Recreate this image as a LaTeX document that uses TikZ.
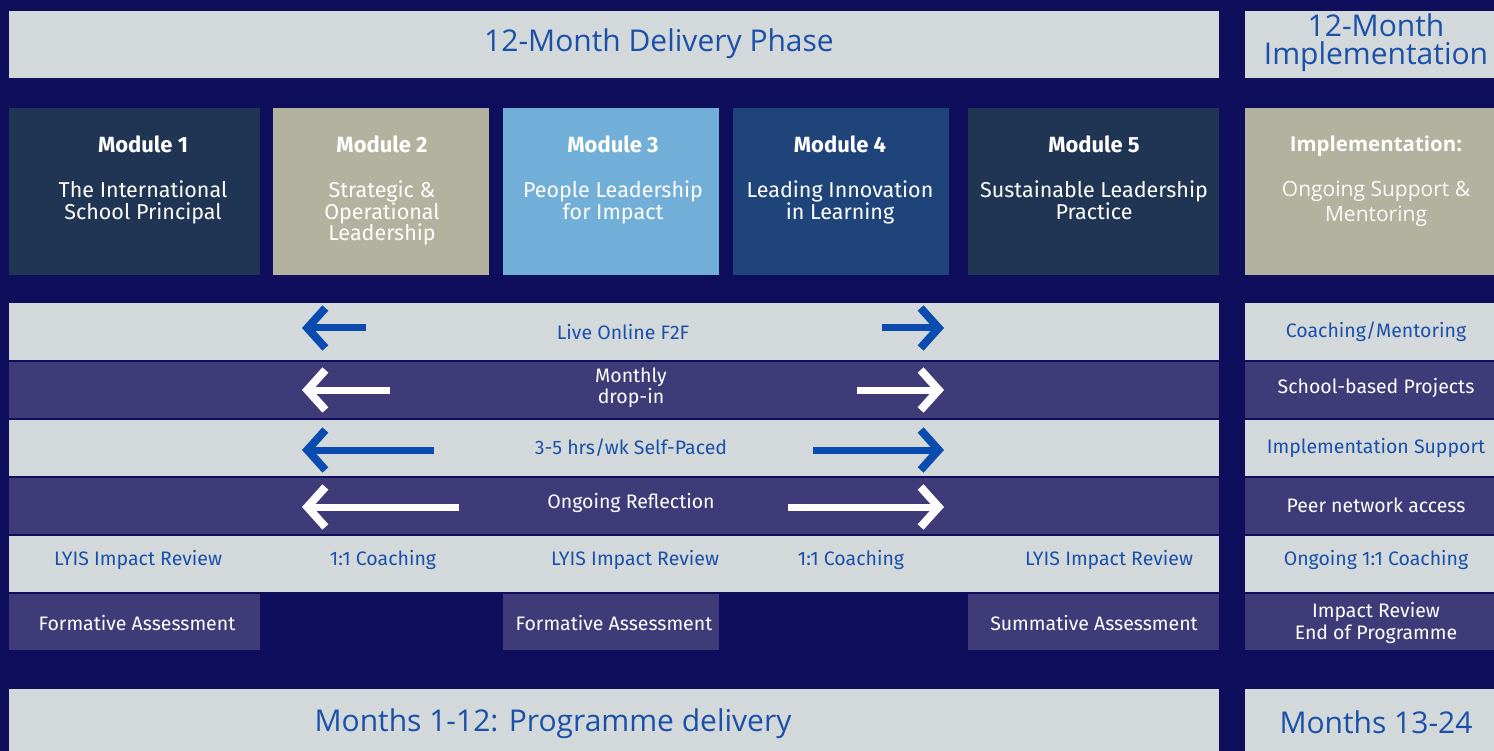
\documentclass[tikz,border=0pt]{standalone}
\usepackage{fontspec}
\setmainfont{Fira Sans}
\newfontfamily\headfont{Open Sans}
\usetikzlibrary{arrows.meta}
\definecolor{navy}{HTML}{0E0E5C}
\definecolor{lightband}{HTML}{D3D9DB}
\definecolor{purpleband}{HTML}{3E3B78}
\definecolor{slatebox}{HTML}{1F3553}
\definecolor{khakibox}{HTML}{B3B29E}
\definecolor{skybox}{HTML}{72AFD8}
\definecolor{deepbox}{HTML}{1F4479}
\definecolor{txtblue}{HTML}{1A50A8}
\definecolor{arrowblue}{HTML}{0A4BB0}

\begin{document}
\begin{tikzpicture}[x=1pt,y=-1pt,
  panel/.style={anchor=north west, inner sep=0pt, outer sep=0pt},
  modtitle/.style={font=\fontsize{22}{24}\selectfont\bfseries, text=white, anchor=base},
  modsub/.style={font=\fontsize{21.5}{21.5}\selectfont, text=white, align=center, anchor=north, inner sep=0pt},
  rowblue/.style={font=\fontsize{19.5}{22}\selectfont, text=txtblue},
  rowwhite/.style={font=\fontsize{19.5}{22}\selectfont, text=white, align=center},
  bigtitle/.style={font=\headfont\fontsize{30}{27}\selectfont, text=txtblue, align=center},
  flow/.style={line width=7pt, -{Straight Barb[length=18pt,width=40pt,line width=8pt]}},
]
\useasboundingbox (0,0) rectangle (1494,751);
\fill[navy] (0,0) rectangle (1494,751);

% headers
\node[panel, fill=lightband, minimum width=1210, minimum height=67] (delivery) at (9,11) {};
\node[panel, fill=lightband, minimum width=249, minimum height=67] (implement) at (1245,11) {};
\node[bigtitle] (deliverytxt) at (659,44) {12-Month Delivery Phase};
\node[bigtitle, font=\headfont\fontsize{30}{28}\selectfont, inner sep=0pt] (implementtxt) at (1376,43) {12-Month\\Implementation};

% modules
\node[panel, fill=slatebox, minimum width=251, minimum height=167] (mod1) at (9,108) {};
\node[panel, fill=khakibox, minimum width=216, minimum height=167] (mod2) at (273,108) {};
\node[panel, fill=skybox, minimum width=216, minimum height=167] (mod3) at (503,108) {};
\node[panel, fill=deepbox, minimum width=216, minimum height=167] (mod4) at (733,108) {};
\node[panel, fill=slatebox, minimum width=251, minimum height=167] (mod5) at (968,108) {};
\node[panel, fill=khakibox, minimum width=249, minimum height=167] (impl) at (1245,108) {};

\node[modtitle] (mod1t) at (143,153) {Module 1};
\node[modsub] (mod1s) at (143,181) {The International\\School Principal};
\node[modtitle] (mod2t) at (382,153) {Module 2};
\node[modsub] (mod2s) at (382,181) {Strategic \&\\Operational\\Leadership};
\node[modtitle] (mod3t) at (613,153) {Module 3};
\node[modsub] (mod3s) at (613,181) {People Leadership\\for Impact};
\node[modtitle] (mod4t) at (840,153) {Module 4};
\node[modsub] (mod4s) at (840,181) {Leading Innovation\\in Learning};
\node[modtitle] (mod5t) at (1094,153) {Module 5};
\node[modsub] (mod5s) at (1094,181) {Sustainable Leadership\\Practice};
\node[modtitle, font=\headfont\fontsize{20.5}{22}\selectfont\bfseries] (implt) at (1376,152) {Implementation:};
\node[modsub, font=\headfont\fontsize{21}{24.5}\selectfont, text=white!95!khakibox] (impls) at (1376,181) {Ongoing Support \&\\Mentoring};

% delivery rows
\node[panel, fill=lightband, minimum width=1210, minimum height=57] (live) at (9,303) {};
\node[panel, fill=purpleband, minimum width=1210, minimum height=56] (dropin) at (9,362) {};
\node[panel, fill=lightband, minimum width=1210, minimum height=56] (selfpaced) at (9,420) {};
\node[panel, fill=purpleband, minimum width=1210, minimum height=56] (reflect) at (9,478) {};
\node[panel, fill=lightband, minimum width=1210, minimum height=56] (review) at (9,536) {};
\node[panel, fill=purpleband, minimum width=251, minimum height=56] (assess1) at (9,594) {};
\node[panel, fill=purpleband, minimum width=216, minimum height=56] (assess2) at (503,594) {};
\node[panel, fill=purpleband, minimum width=251, minimum height=56] (assess3) at (968,594) {};

\node[rowblue] (livetxt) at (623,332) {Live Online F2F};
\node[rowwhite, font=\fontsize{19.5}{21}\selectfont] (dropintxt) at (631,388) {Monthly\\drop-in};
\node[rowblue] (selftxt) at (631,448) {3-5 hrs/wk Self-Paced};
\node[rowwhite] (reflecttxt) at (631,503) {Ongoing Reflection};

\node[rowblue] (rev1) at (138,560) {LYIS Impact Review};
\node[rowblue] (coach1) at (383,560) {1:1 Coaching};
\node[rowblue] (rev2) at (635,560) {LYIS Impact Review};
\node[rowblue] (coach2) at (851,560) {1:1 Coaching};
\node[rowblue] (rev3) at (1109,560) {LYIS Impact Review};
\node[rowwhite] (form1) at (137,623) {Formative Assessment};
\node[rowwhite] (form2) at (614,623) {Formative Assessment};
\node[rowwhite] (summ) at (1094,623) {Summative Assessment};

% arrows
\coordinate (a1l) at (366,328); \coordinate (a1lt) at (302,328);
\coordinate (a1r) at (882,328); \coordinate (a1rt) at (944,328);
\coordinate (a2l) at (390,390); \coordinate (a2lt) at (302,390);
\coordinate (a2r) at (857,390); \coordinate (a2rt) at (944,390);
\coordinate (a3l) at (434,450); \coordinate (a3lt) at (302,450);
\coordinate (a3r) at (813,450); \coordinate (a3rt) at (944,450);
\coordinate (a4l) at (459,507); \coordinate (a4lt) at (302,507);
\coordinate (a4r) at (788,507); \coordinate (a4rt) at (944,507);
\draw[flow, arrowblue] (a1l) -- (a1lt);
\draw[flow, arrowblue] (a1r) -- (a1rt);
\draw[flow, white] (a2l) -- (a2lt);
\draw[flow, white] (a2r) -- (a2rt);
\draw[flow, arrowblue] (a3l) -- (a3lt);
\draw[flow, arrowblue] (a3r) -- (a3rt);
\draw[flow, white] (a4l) -- (a4lt);
\draw[flow, white] (a4r) -- (a4rt);

% implementation column
\node[panel, fill=lightband, minimum width=249, minimum height=57] (mentor) at (1245,303) {};
\node[panel, fill=purpleband, minimum width=249, minimum height=56] (projects) at (1245,362) {};
\node[panel, fill=lightband, minimum width=249, minimum height=56] (support) at (1245,420) {};
\node[panel, fill=purpleband, minimum width=249, minimum height=56] (peers) at (1245,478) {};
\node[panel, fill=lightband, minimum width=249, minimum height=56] (ongoing) at (1245,536) {};
\node[panel, fill=purpleband, minimum width=249, minimum height=56] (endreview) at (1245,594) {};
\node[rowblue] (mentortxt) at (1376,332) {Coaching/Mentoring};
\node[rowwhite] (projtxt) at (1376,388) {School-based Projects};
\node[rowblue] (supptxt) at (1376,448) {Implementation Support};
\node[rowwhite] (peertxt) at (1376,505) {Peer network access};
\node[rowblue] (ongotxt) at (1376,560) {Ongoing 1:1 Coaching};
\node[rowwhite, font=\fontsize{19.5}{22}\selectfont] (endtxt) at (1376,623) {Impact Review\\End of Programme};

% footer
\node[panel, fill=lightband, minimum width=1210, minimum height=62] (months1) at (9,689) {};
\node[panel, fill=lightband, minimum width=249, minimum height=62] (months2) at (1245,689) {};
\node[bigtitle] (months1txt) at (553,724) {Months 1-12: Programme delivery};
\node[bigtitle] (months2txt) at (1376,722) {Months 13-24};
\end{tikzpicture}
\end{document}
